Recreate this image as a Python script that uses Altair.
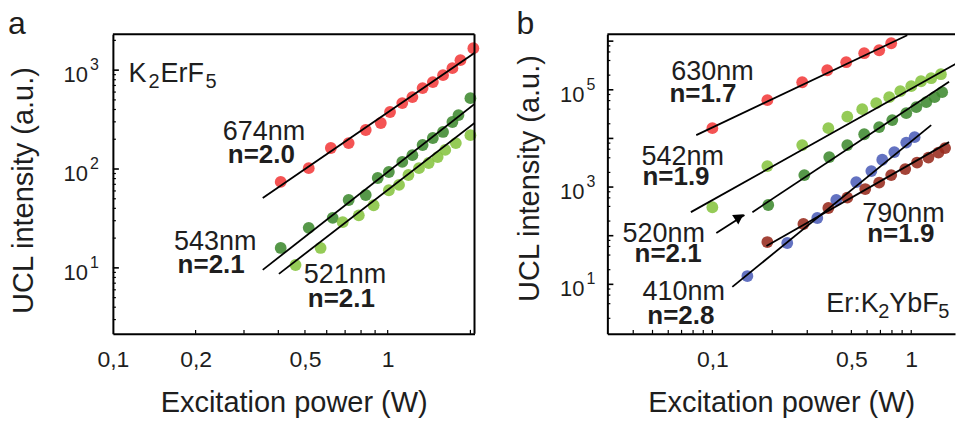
import altair as alt
import pandas as pd

FONT = "Liberation Sans"
TXT = "#1e1e1e"

# ---------------- Panel a (K2ErF5) ----------------
a674_x = [0.408, 0.516, 0.621, 0.721, 0.832, 0.944, 1.02, 1.13, 1.23, 1.34, 1.46, 1.59, 1.72, 1.84, 2.05]
a674_y = [74, 102, 163, 183, 248, 292, 377, 464, 534, 658, 757, 890, 1047, 1262, 1667]
a543_x = [0.408, 0.516, 0.631, 0.721, 0.832, 0.920, 1.01, 1.13, 1.23, 1.34, 1.46, 1.59, 1.72, 1.81, 2.00]
a543_y = [15.9, 25.4, 32.0, 48.6, 54.6, 81.1, 93.3, 118, 138, 175, 206, 237, 299, 351, 521]
a521_x = [0.462, 0.570, 0.686, 0.785, 0.889, 1.01, 1.10, 1.19, 1.30, 1.41, 1.52, 1.62, 1.77, 2.00]
a521_y = [10.7, 15.9, 29, 34, 43, 61, 69, 87, 102, 115, 132, 156, 183, 220]

fit_a_s = ["674", "543", "521"]
fit_a_x0 = [0.351, 0.351, 0.402]
fit_a_y0 = [51, 9.55, 8.7]
fit_a_x1 = [2.09, 2.09, 2.09]
fit_a_y1 = [1520, 464, 298]

ann_a_text = ["674nm", "543nm", "521nm"]
ann_a_x = [0.251, 0.167, 0.495]
ann_a_y = [196, 15.2, 7.05]
ann_a_bold = ["n=2.0", "n=2.1", "n=2.1"]
ann_a_bx = [0.262, 0.172, 0.512]
ann_a_by = [115, 8.9, 4.03]

# ---------------- Panel b (Er:K2YbF5) ----------------
b630_x = [0.1, 0.189, 0.283, 0.378, 0.471, 0.580, 0.690, 0.793]
b630_y = [16250, 61100, 143000, 252000, 369000, 565000, 650000, 906000]
b542_x = [0.1, 0.189, 0.283, 0.383, 0.477, 0.567, 0.667, 0.775, 0.881, 1.0, 1.12, 1.26, 1.41]
b542_y = [385, 2700, 7280, 16260, 28000, 40000, 53100, 70500, 93600, 118600, 150000, 173000, 209000]
b520_x = [0.191, 0.290, 0.387, 0.477, 0.580, 0.690, 0.803, 0.944, 1.06, 1.19, 1.31, 1.43]
b520_y = [427, 1760, 4130, 7280, 12200, 17100, 23800, 33100, 43900, 55600, 70500, 89300]
b410_x = [0.150, 0.238, 0.337, 0.420, 0.529, 0.630, 0.715, 0.822, 0.944, 1.04]
b410_y = [14.8, 70.8, 231, 541, 1267, 2130, 3640, 5240, 8200, 10600]
b790_x = [0.189, 0.287, 0.383, 0.477, 0.587, 0.690, 0.793, 0.933, 1.07, 1.22, 1.37, 1.48]
b790_y = [74, 174, 371, 608, 910, 1237, 1760, 2340, 3190, 4040, 5110, 6320]

fit_b_s = ["630", "542", "520", "410", "790"]
fit_b_x0 = [0.083, 0.078, 0.159, 0.126, 0.187]
fit_b_y0 = [11700, 305, 305, 8.85, 61.5]
fit_b_x1 = [0.955, 1.80, 1.55, 1.26, 1.55]
fit_b_y1 = [1320000, 405000, 146600, 18750, 8400]

ann_b_text = ["630nm", "542nm", "520nm", "410nm", "790nm"]
ann_b_x = [0.0622, 0.0440, 0.0353, 0.0445, 0.567]
ann_b_y = [157000, 2830, 74, 4.78, 191]
ann_b_bold = ["n=1.7", "n=1.9", "n=2.1", "n=2.8", "n=1.9"]
ann_b_bx = [0.0608, 0.0445, 0.0406, 0.0471, 0.601]
ann_b_by = [55600, 1100, 28.8, 1.54, 74]

arrow_x = [0.1047, 0.145]
arrow_y = [113, 266]
arrow_head_x = [0.1367]
arrow_head_y = [242]

# axis label values
xa_labels = [0.1, 0.2, 0.5, 1]
xb_labels = [0.1, 0.5, 1]
ya_labels = [10, 100, 1000]
ya_exp = ["1", "2", "3"]
yb_labels = [10, 1000, 100000]
yb_exp = ["1", "3", "5"]

SERIES = ["674", "543", "521", "630", "542", "520", "410", "790"]
SERIES_COLORS = ["#f23b3b", "#3f8a30", "#86c440", "#f23b3b", "#86c440", "#3f8a30", "#4d5fb8", "#972a1c"]

W_A, W_B, H = 362, 348, 300
xa_dom = [0.1, 2.07]
ya_dom = [2.15, 2310]
xb_dom = [0.02965, 1.66]
yb_dom = [0.958, 1.39e6]


def series_df(pairs):
    rows = []
    for s, xs, ys in pairs:
        for xv, yv in zip(xs, ys):
            rows.append({"x": xv, "y": yv, "s": s})
    return pd.DataFrame(rows)


def fit_df(ss, x0, y0, x1, y1):
    rows = []
    for s, a, b, c, d in zip(ss, x0, y0, x1, y1):
        rows.append({"x": a, "y": b, "s": s})
        rows.append({"x": c, "y": d, "s": s})
    return pd.DataFrame(rows)


def make_panel(W, xdom, ydom, xlabels, ylabels, yexp, pts, fits, ann, annb,
               ytitle_x, ytitle_y, ylab_dx, letter, letter_x, formula, extra=None,
               xminor=None, yminor=None, ymajor=None, right_border=True):
    X = alt.X("x:Q", scale=alt.Scale(type="log", domain=xdom, nice=False),
              axis=alt.Axis(values=xlabels, labelExpr="replace(toString(datum.value), '.', ',')",
                            labelFlush=False, labelOverlap=False,
                            title="Excitation power (W)", titleX=W / 2, titleY=78,
                            titleAlign="center", titleBaseline="alphabetic",
                            labelPadding=15))
    Y = alt.Y("y:Q", scale=alt.Scale(type="log", domain=ydom, nice=False),
              axis=alt.Axis(labels=False, title="UCL intensity (a.u.)", titleX=ytitle_x,
                            titleY=ytitle_y, titleAngle=270, titleAlign="center",
                            titleBaseline="alphabetic"))
    cscale = alt.Scale(domain=SERIES, range=SERIES_COLORS)
    layers = []
    layers.append(alt.Chart(pts).mark_circle(size=140, opacity=0.88).encode(
        x=X, y=Y, color=alt.Color("s:N", scale=cscale, legend=None)))
    layers.append(alt.Chart(fits).mark_line(color="black", strokeWidth=1.8, clip=True).encode(
        x=X, y=Y, detail="s:N"))
    # inward ticks
    layers.append(alt.Chart(pd.DataFrame({"x": xminor})).mark_rule(color="black", strokeWidth=1.2).encode(
        x=X, y=alt.value(H), y2=alt.value(H - 4)))
    layers.append(alt.Chart(pd.DataFrame({"y": yminor})).mark_rule(color="black", strokeWidth=1.2).encode(
        y=Y, x=alt.value(0), x2=alt.value(3)))
    layers.append(alt.Chart(pd.DataFrame({"y": ymajor})).mark_rule(color="black", strokeWidth=1.6).encode(
        y=Y, x=alt.value(0), x2=alt.value(6)))
    # frame
    one = pd.DataFrame({"k": [0]})
    layers.append(alt.Chart(one).mark_rule(color="black", strokeWidth=2).encode(
        x=alt.value(0), x2=alt.value(W), y=alt.value(0)))
    if right_border:
        layers.append(alt.Chart(one).mark_rule(color="black", strokeWidth=2).encode(
            x=alt.value(W), y=alt.value(0), y2=alt.value(H)))
    # y tick labels
    ylab = pd.DataFrame({"y": ylabels, "e": yexp, "t": ["10"] * len(ylabels)})
    layers.append(alt.Chart(ylab).mark_text(align="right", baseline="middle", fontSize=22, font=FONT,
                                            color=TXT, dy=5).encode(
        x=alt.value(ylab_dx), y=Y, text="t:N"))
    layers.append(alt.Chart(ylab).mark_text(align="left", baseline="middle", fontSize=16, font=FONT,
                                            color=TXT, dy=-5).encode(
        x=alt.value(ylab_dx + 2), y=Y, text="e:N"))
    # annotations
    layers.append(alt.Chart(ann).mark_text(align="left", baseline="alphabetic", fontSize=27, font=FONT,
                                           color=TXT).encode(x=X, y=Y, text="t:N"))
    layers.append(alt.Chart(annb).mark_text(align="left", baseline="alphabetic", fontSize=26, font=FONT,
                                            fontWeight="bold", color=TXT).encode(x=X, y=Y, text="t:N"))
    # formula with subscripts
    fx, fy, parts = formula
    fdf = pd.DataFrame({"x": [fx], "y": [fy]})
    for txt, dx, dy, fs in parts:
        layers.append(alt.Chart(fdf).mark_text(align="left", baseline="alphabetic", fontSize=fs, font=FONT,
                                               color=TXT, dx=dx, dy=dy).encode(
            x=X, y=Y, text=alt.value(txt)))
    # panel letter
    layers.append(alt.Chart(one).mark_text(align="left", baseline="alphabetic", fontSize=32, font=FONT,
                                           color=TXT).encode(
        x=alt.value(letter_x), y=alt.value(0), text=alt.value(letter)))
    if extra is not None:
        layers.extend(extra(X, Y))
    return alt.layer(*layers).properties(width=W, height=H)


pts_a = series_df([("674", a674_x, a674_y), ("543", a543_x, a543_y), ("521", a521_x, a521_y)])
fits_a = fit_df(fit_a_s, fit_a_x0, fit_a_y0, fit_a_x1, fit_a_y1)
ann_a = pd.DataFrame({"x": ann_a_x, "y": ann_a_y, "t": ann_a_text})
annb_a = pd.DataFrame({"x": ann_a_bx, "y": ann_a_by, "t": ann_a_bold})

pts_b = series_df([("630", b630_x, b630_y), ("542", b542_x, b542_y), ("520", b520_x, b520_y),
                   ("410", b410_x, b410_y), ("790", b790_x, b790_y)])
fits_b = fit_df(fit_b_s, fit_b_x0, fit_b_y0, fit_b_x1, fit_b_y1)
ann_b = pd.DataFrame({"x": ann_b_x, "y": ann_b_y, "t": ann_b_text})
annb_b = pd.DataFrame({"x": ann_b_bx, "y": ann_b_by, "t": ann_b_bold})

xa_minor = [0.2, 0.3, 0.4, 0.5, 0.6, 0.7, 0.8, 0.9, 1, 2]
xb_minor = [0.04, 0.05, 0.06, 0.07, 0.08, 0.09, 0.1, 0.2, 0.3, 0.4, 0.5, 0.6, 0.7, 0.8, 0.9, 1]
ya_major = [10, 100, 1000]
ya_minor = [m * 10 ** k for k in range(0, 4) for m in range(2, 10) if 2.2 < m * 10 ** k < 2300]
yb_major = [10 ** k for k in range(1, 7)]
yb_minor = [m * 10 ** k for k in range(0, 6) for m in range(2, 10, 2)]


def arrow_layers(X, Y):
    adf = pd.DataFrame({"x": arrow_x, "y": arrow_y})
    hdf = pd.DataFrame({"x": arrow_head_x, "y": arrow_head_y})
    return [
        alt.Chart(adf).mark_line(color="black", strokeWidth=1.8).encode(x=X, y=Y),
        alt.Chart(hdf).mark_point(shape="triangle-up", filled=True, size=130, angle=57,
                                  color="black", opacity=1).encode(x=X, y=Y),
    ]


panel_a = make_panel(
    W_A, xa_dom, ya_dom, xa_labels, ya_labels, ya_exp, pts_a, fits_a, ann_a, annb_a,
    ytitle_x=-80, ytitle_y=156, ylab_dx=-25, letter="a", letter_x=-105,
    formula=(0.114, 757, [("K", 0, 0, 27), ("2", 20, 6, 20), ("ErF", 32, 0, 27), ("5", 77, 6, 20)]),
    xminor=xa_minor, yminor=ya_minor, ymajor=ya_major, right_border=True)

panel_b = make_panel(
    W_B, xb_dom, yb_dom, xb_labels, yb_labels, yb_exp, pts_b, fits_b, ann_b, annb_b,
    ytitle_x=-69, ytitle_y=144, ylab_dx=-23, letter="b", letter_x=-91,
    formula=(0.374, 2.71, [("Er:K", 0, 0, 27), ("2", 52, 6, 20), ("YbF", 63, 0, 27), ("5", 112, 6, 20)]),
    extra=arrow_layers, xminor=xb_minor, yminor=yb_minor, ymajor=yb_major, right_border=False)

chart = alt.hconcat(panel_a, panel_b, spacing=133, bounds="flush").properties(
    padding={"left": 0, "top": 0, "right": 0, "bottom": 2}
).configure_view(stroke=None).configure_axis(
    grid=False, ticks=False, domain=True, domainColor="black", domainWidth=2,
    labelFont=FONT, labelFontSize=23, labelColor=TXT,
    titleFont=FONT, titleFontSize=29, titleFontWeight="normal", titleColor=TXT,
)

chart.save("out.html", embed_options={"renderer": "svg", "actions": False})
